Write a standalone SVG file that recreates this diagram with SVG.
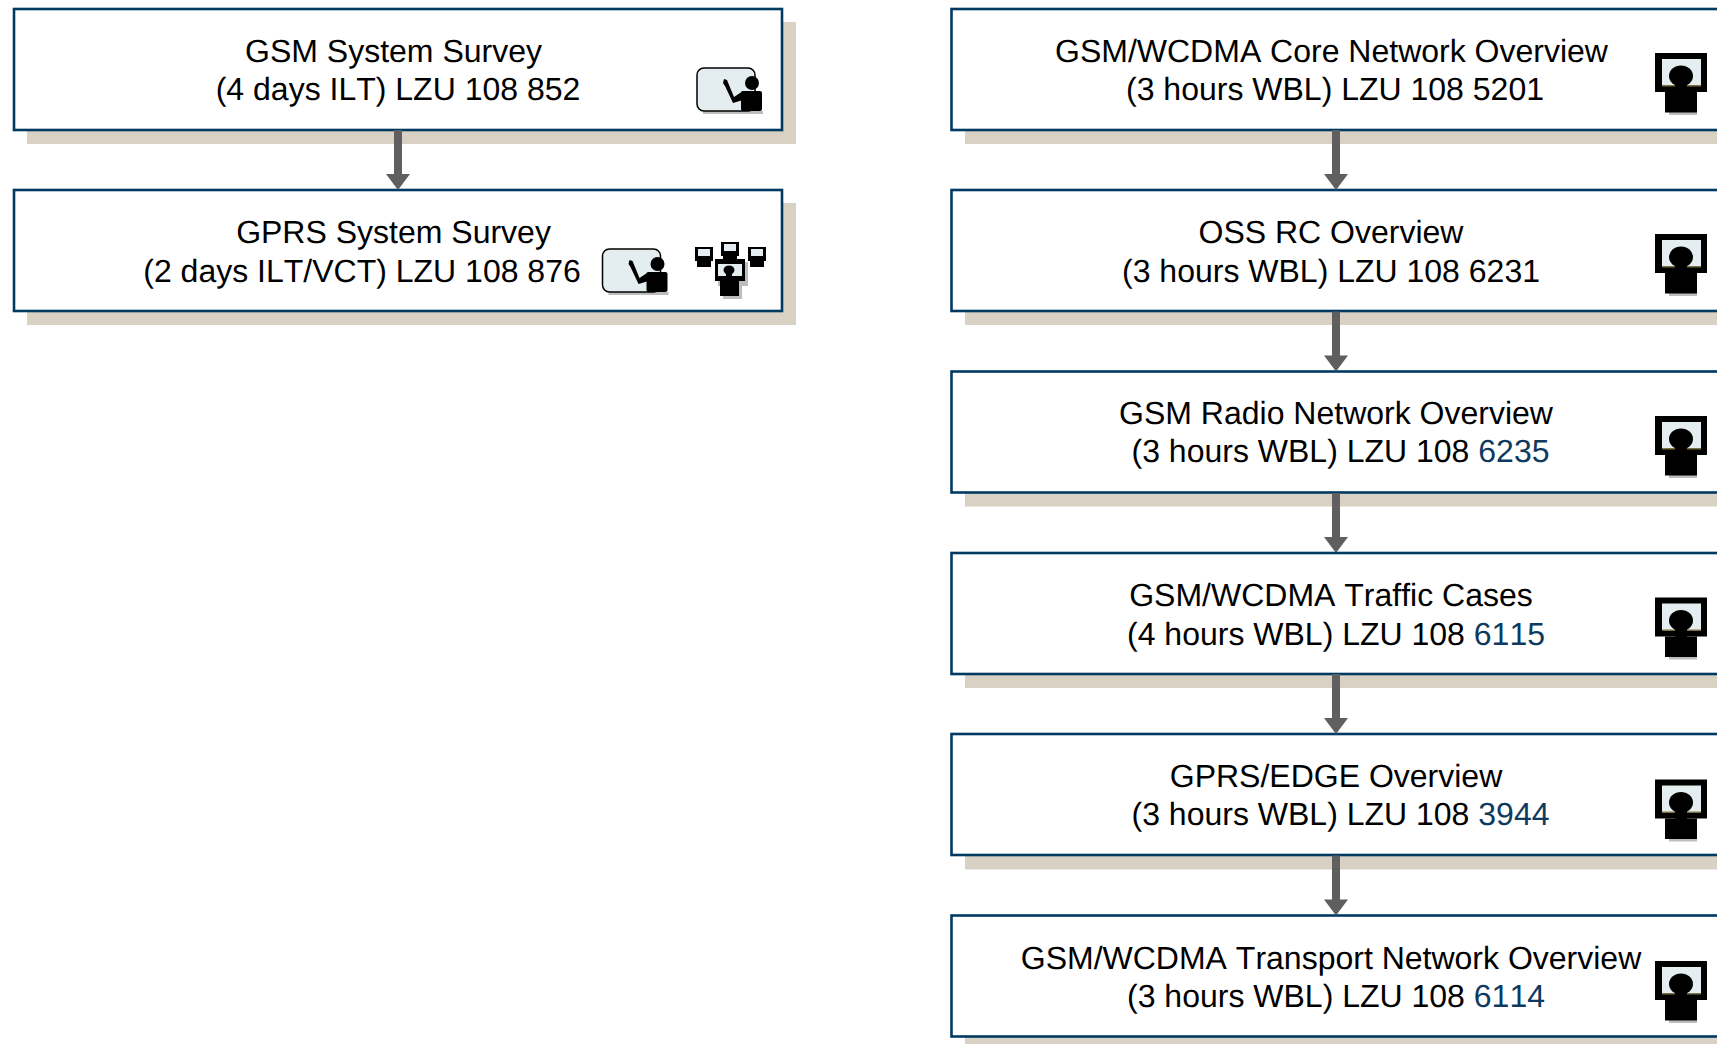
<svg xmlns="http://www.w3.org/2000/svg" width="1717" height="1044" viewBox="0 0 1717 1044">
<style>
.box{fill:#fff;stroke:#003a63;stroke-width:2.6}
.sh{fill:#d9d1c4}
.t{font-family:"Liberation Sans",Arial,sans-serif;font-size:32px;fill:#000;text-anchor:middle;font-kerning:none;text-rendering:geometricPrecision}
.b{fill:#0f3a5f}
.conn{fill:#5f5f5f}
</style>
<defs>
<g id="arrow"><path class="conn" d="M-4 0H4V44H12L0 60L-12 44H-4Z"/></g>
<g id="mon">
<rect x="14" y="59" width="28" height="3" fill="#bdbdbd"/>
<rect x="0" y="0" width="52" height="39" fill="#000"/>
<rect x="7" y="6" width="39" height="27" fill="#e4eef0"/>
<rect x="7" y="32" width="39" height="1.500" fill="#7a7040"/>
<ellipse cx="26" cy="23" rx="12" ry="10.500"/>
<rect x="20" y="30" width="12" height="10"/>
<rect x="10" y="39" width="32" height="20.500"/>
</g>
<g id="board">
<rect x="6" y="43" width="60" height="3" fill="#bdbdbd"/>
<rect x="0" y="0" width="58" height="43" rx="7" fill="#e4eef0" stroke="#000" stroke-width="1.500"/>
<circle cx="55" cy="15" r="7"/>
<rect x="44" y="23" width="21" height="20" rx="2"/>
<path d="M27 11L30 12L37 29L46 23V32L36 35L28 18L26 15Z"/>
</g>
<g id="small">
<rect x="0" y="0" width="18" height="14"/>
<rect x="3" y="2" width="12" height="7" fill="#e4eef0"/>
<rect x="2" y="14" width="14" height="6"/>
</g>
<g id="group">
<use href="#small" x="0" y="5"/><use href="#small" x="26" y="0"/><use href="#small" x="53" y="5"/>
<rect x="23" y="20" width="30" height="24" fill="#bdbdbd"/>
<rect x="28" y="42" width="19" height="15" fill="#bdbdbd"/>
<rect x="20" y="17" width="30" height="22"/>
<rect x="23" y="22" width="24" height="12" fill="#e4eef0"/>
<ellipse cx="34" cy="28" rx="5.500" ry="4.500"/><rect x="31" y="30" width="6" height="6"/>
<rect x="25" y="39" width="19" height="15"/>
</g>
</defs>
<g id="node-gsm-survey"><rect class="sh" x="27" y="22" width="769" height="122"/><rect class="box" x="14" y="9" width="768" height="121"/>
<text class="t" x="393.500" y="62">GSM System Survey</text><text class="t" x="398" y="100">(4 days ILT) LZU 108 852</text><use href="#board" x="697" y="68"/></g>
<g id="node-gprs-survey"><rect class="sh" x="27" y="203" width="769" height="122"/><rect class="box" x="14" y="190" width="768" height="121"/>
<text class="t" x="393.500" y="243">GPRS System Survey</text><text class="t" x="362" y="282">(2 days ILT/VCT) LZU 108 876</text><use href="#board" x="602.500" y="249"/><use href="#group" x="695" y="242"/></g>
<g id="node-core"><rect class="sh" x="965" y="22" width="780" height="122"/><rect class="box" x="951.500" y="9" width="790" height="121"/>
<text class="t" x="1331.500" y="62">GSM/WCDMA Core Network Overview</text><text class="t" x="1335" y="100">(3 hours WBL) LZU 108 5201</text><use href="#mon" x="1655" y="53"/></g>
<g id="node-oss"><rect class="sh" x="965" y="203" width="780" height="122"/><rect class="box" x="951.500" y="190" width="790" height="121"/>
<text class="t" x="1331" y="243">OSS RC Overview</text><text class="t" x="1331" y="282">(3 hours WBL) LZU 108 6231</text><use href="#mon" x="1655" y="234"/></g>
<g id="node-radio"><rect class="sh" x="965" y="384.500" width="780" height="122"/><rect class="box" x="951.500" y="371.500" width="790" height="121"/>
<text class="t" x="1336" y="424">GSM Radio Network Overview</text><text class="t" x="1340.500" y="462">(3 hours WBL) LZU 108 <tspan class="b">6235</tspan></text><use href="#mon" x="1655" y="416"/></g>
<g id="node-traffic"><rect class="sh" x="965" y="566" width="780" height="122"/><rect class="box" x="951.500" y="553" width="790" height="121"/>
<text class="t" x="1331" y="606">GSM/WCDMA Traffic Cases</text><text class="t" x="1336" y="644.500">(4 hours WBL) LZU 108 <tspan class="b">6115</tspan></text><use href="#mon" x="1655" y="597.500"/></g>
<g id="node-edge"><rect class="sh" x="965" y="747.500" width="780" height="122"/><rect class="box" x="951.500" y="734" width="790" height="121"/>
<text class="t" x="1336" y="787">GPRS/EDGE Overview</text><text class="t" x="1340.500" y="825">(3 hours WBL) LZU 108 <tspan class="b">3944</tspan></text><use href="#mon" x="1655" y="779.500"/></g>
<g id="node-transport"><rect class="sh" x="965" y="929" width="780" height="122"/><rect class="box" x="951.500" y="915.500" width="790" height="121"/>
<text class="t" x="1331" y="969">GSM/WCDMA Transport Network Overview</text><text class="t" x="1336" y="1007">(3 hours WBL) LZU 108 <tspan class="b">6114</tspan></text><use href="#mon" x="1655" y="961"/></g>
<g id="connectors">
<use href="#arrow" x="398" y="130"/>
<use href="#arrow" x="1336" y="130"/>
<use href="#arrow" x="1336" y="311.500"/>
<use href="#arrow" x="1336" y="493"/>
<use href="#arrow" x="1336" y="674"/>
<use href="#arrow" x="1336" y="855.500"/>
</g>
</svg>
